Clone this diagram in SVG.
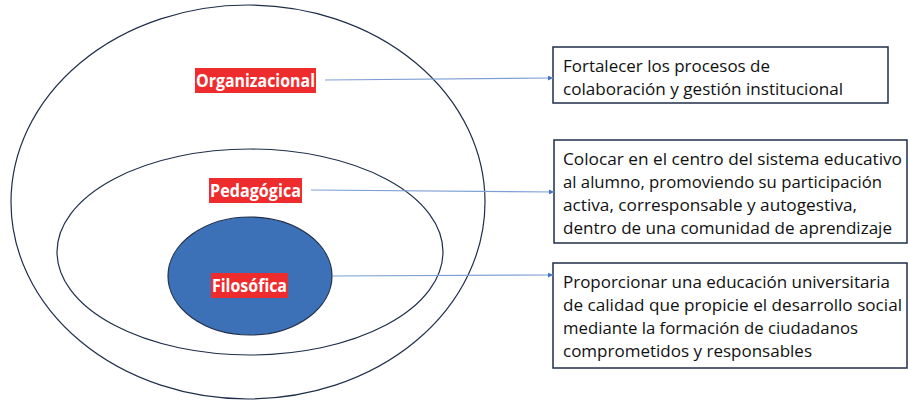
<svg xmlns="http://www.w3.org/2000/svg" width="908" height="401" viewBox="0 0 908 401">
<style>
.ring{fill:none;stroke:#1F2E4A;stroke-width:1.2}
.lbl{fill:#EE2C2E}
.lt{font-family:"Open Sans","Liberation Sans",Arial,sans-serif;font-weight:bold;font-size:17px;fill:#fff}
.box{fill:#fff;stroke:#1F2E4A;stroke-width:1.5}
.bt{font-family:"Open Sans","Liberation Sans",Arial,sans-serif;font-size:17px;fill:#111}
.conn{stroke:#7F9FD4;stroke-width:1.2;fill:none;marker-end:url(#ah)}
</style>
<defs>
<marker id="ah" viewBox="0 0 10 10" refX="10" refY="5" markerWidth="5" markerHeight="5" orient="auto" markerUnits="userSpaceOnUse">
<path d="M0,0 L10,5 L0,10 z" fill="#4472C4"/>
</marker>
</defs>
<rect width="908" height="401" fill="#fff"/>
<g id="organizacional">
<ellipse class="ring" cx="248" cy="202" rx="237" ry="197"/>
<rect class="lbl" x="195" y="68" width="121" height="25"/>
<text class="lt" x="196" y="87" textLength="119" lengthAdjust="spacingAndGlyphs">Organizacional</text>
</g>
<g id="pedagogica">
<ellipse class="ring" cx="250" cy="252" rx="193" ry="103"/>
<rect class="lbl" x="209" y="178" width="93" height="25"/>
<text class="lt" x="210" y="197" textLength="91" lengthAdjust="spacingAndGlyphs">Pedagógica</text>
</g>
<g id="filosofica">
<ellipse cx="250" cy="276" rx="82" ry="59" fill="#3D71B7" stroke="#1F2E4A" stroke-width="1.2"/>
<rect class="lbl" x="211" y="273" width="77" height="25"/>
<text class="lt" x="212" y="292" textLength="75" lengthAdjust="spacingAndGlyphs">Filosófica</text>
</g>
<g id="box1">
<rect class="box" x="553" y="47" width="335" height="56"/>
<text class="bt" x="563" y="72" textLength="207" lengthAdjust="spacingAndGlyphs">Fortalecer los procesos de</text>
<text class="bt" x="563" y="95" textLength="280" lengthAdjust="spacingAndGlyphs">colaboración y gestión institucional</text>
</g>
<g id="box2">
<rect class="box" x="554" y="140" width="353" height="103"/>
<text class="bt" x="563" y="165" textLength="339" lengthAdjust="spacingAndGlyphs">Colocar en el centro del sistema educativo</text>
<text class="bt" x="563" y="188" textLength="319" lengthAdjust="spacingAndGlyphs">al alumno, promoviendo su participación</text>
<text class="bt" x="563" y="211" textLength="294" lengthAdjust="spacingAndGlyphs">activa, corresponsable y autogestiva,</text>
<text class="bt" x="563" y="234" textLength="329" lengthAdjust="spacingAndGlyphs">dentro de una comunidad de aprendizaje</text>
</g>
<g id="box3">
<rect class="box" x="553" y="263" width="354" height="105"/>
<text class="bt" x="563" y="288" textLength="327" lengthAdjust="spacingAndGlyphs">Proporcionar una educación universitaria</text>
<text class="bt" x="563" y="311" textLength="339" lengthAdjust="spacingAndGlyphs">de calidad que propicie el desarrollo social</text>
<text class="bt" x="563" y="334" textLength="295" lengthAdjust="spacingAndGlyphs">mediante la formación de ciudadanos</text>
<text class="bt" x="563" y="357" textLength="249" lengthAdjust="spacingAndGlyphs">comprometidos y responsables</text>
</g>
<g id="connectors">
<path class="conn" d="M325,80 L553,78"/>
<path class="conn" d="M311,190 L554,192"/>
<path class="conn" d="M332,276 L553,275"/>
</g>
</svg>
